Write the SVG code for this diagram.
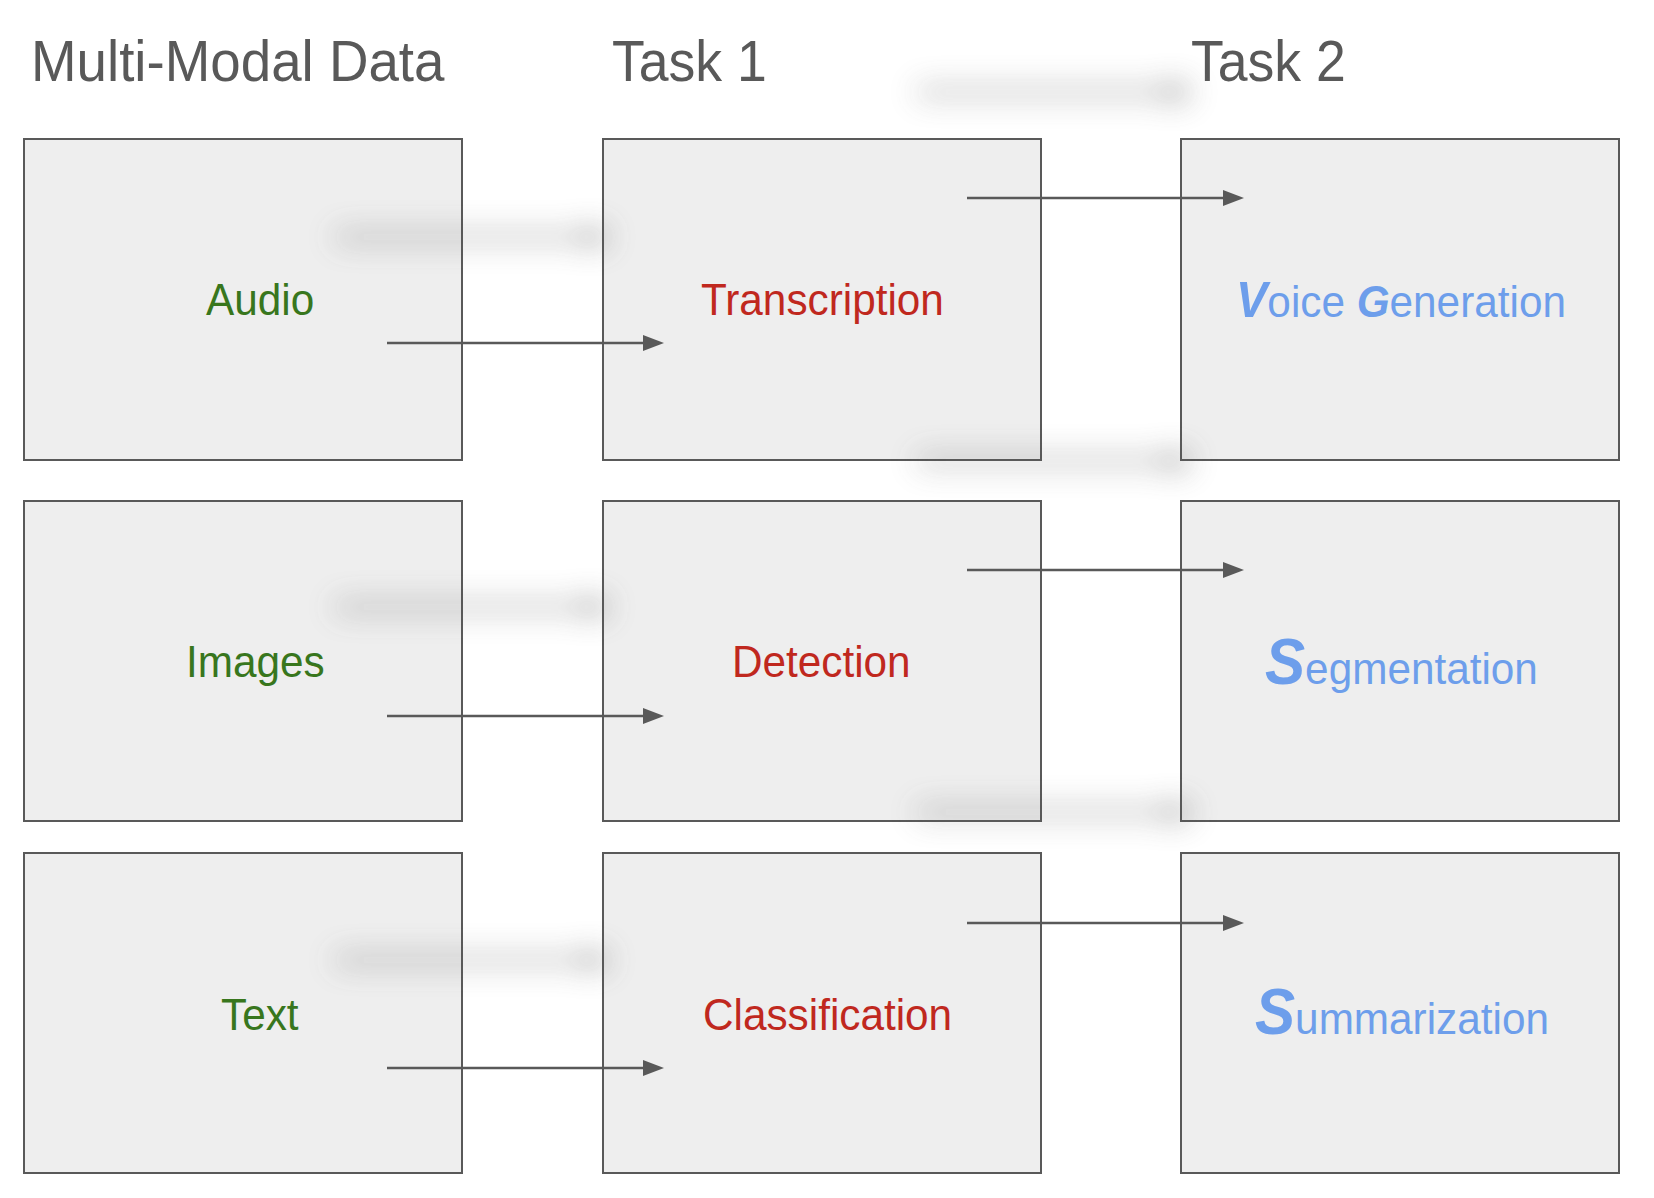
<svg xmlns="http://www.w3.org/2000/svg" width="1654" height="1198" viewBox="0 0 1654 1198">
  <style>
    .box { fill: #eeeeee; stroke: #595959; stroke-width: 2; }
    .t { font-family: "Liberation Sans", Arial, sans-serif; }
    .head { font-size: 57px; fill: #595959; }
    .lbl { font-size: 45px; }
    .green { fill: #38761d; }
    .red { fill: #c0281e; }
    .blue { fill: #6d9eeb; }
    .big { font-weight: bold; font-style: italic; }
    .conn { fill: none; stroke: #595959; stroke-width: 2.3; marker-end: url(#arrow); }
    .shadow { fill: none; stroke: #595959; stroke-width: 7; marker-end: url(#arrow-shadow); }
  </style>
  <defs>
    <marker id="arrow" markerUnits="userSpaceOnUse" markerWidth="22" markerHeight="16" refX="1" refY="8" orient="auto">
      <path d="M0,0 L21,8 L0,16 Z" fill="#595959"/>
    </marker>
    <marker id="arrow-shadow" markerUnits="userSpaceOnUse" markerWidth="26" markerHeight="24" refX="1" refY="12" orient="auto">
      <path d="M0,0 L25,12 L0,24 Z" fill="#595959"/>
    </marker>
    <filter id="blur" filterUnits="userSpaceOnUse" x="-200" y="-300" width="2100" height="1800">
      <feGaussianBlur stdDeviation="15"/>
    </filter>
  </defs>
  <rect width="1654" height="1198" fill="#ffffff"/>

  <g id="headers">
    <text class="t head" transform="translate(31,81) scale(0.96,1)">Multi-Modal Data</text>
    <text class="t head" transform="translate(612,81) scale(0.94,1)">Task 1</text>
    <text class="t head" transform="translate(1191,81) scale(0.94,1)">Task 2</text>
  </g>

  <g id="audio">
    <rect class="box" x="24" y="139" width="438" height="321"/>
    <text class="t lbl green" transform="translate(206,315) scale(0.94,1)">Audio</text>
  </g>
  <g id="transcription">
    <rect class="box" x="603" y="139" width="438" height="321"/>
    <text class="t lbl red" transform="translate(701,315) scale(0.94,1)">Transcription</text>
  </g>
  <g id="voice-generation">
    <rect class="box" x="1181" y="139" width="438" height="321"/>
    <text class="t lbl blue" transform="translate(1236,317) scale(0.94,1)"><tspan class="big" font-size="50">V</tspan>oice <tspan class="big">G</tspan>eneration</text>
  </g>

  <g id="images">
    <rect class="box" x="24" y="501" width="438" height="320"/>
    <text class="t lbl green" transform="translate(186,677) scale(0.94,1)">Images</text>
  </g>
  <g id="detection">
    <rect class="box" x="603" y="501" width="438" height="320"/>
    <text class="t lbl red" transform="translate(732,677) scale(0.94,1)">Detection</text>
  </g>
  <g id="segmentation">
    <rect class="box" x="1181" y="501" width="438" height="320"/>
    <text class="t lbl blue" transform="translate(1265,684) scale(0.94,1)"><tspan class="big" font-size="64">S</tspan>egmentation</text>
  </g>

  <g id="text">
    <rect class="box" x="24" y="853" width="438" height="320"/>
    <text class="t lbl green" transform="translate(221,1030) scale(0.94,1)">Text</text>
  </g>
  <g id="classification">
    <rect class="box" x="603" y="853" width="438" height="320"/>
    <text class="t lbl red" transform="translate(703,1030) scale(0.94,1)">Classification</text>
  </g>
  <g id="summarization">
    <rect class="box" x="1181" y="853" width="438" height="320"/>
    <text class="t lbl blue" transform="translate(1255,1034) scale(0.94,1)"><tspan class="big" font-size="64">S</tspan>ummarization</text>
  </g>

  <g id="connector-shadows" filter="url(#blur)" opacity="0.6">
    <path class="shadow" d="M335,237 H588"/>
    <path class="shadow" d="M335,607 H588"/>
    <path class="shadow" d="M335,960 H588"/>
    <path class="shadow" d="M917,92 H1170"/>
    <path class="shadow" d="M917,461 H1170"/>
    <path class="shadow" d="M917,812 H1170"/>
  </g>

  <g id="connectors">
    <path id="c-audio" class="conn" d="M387,343 H644"/>
    <path id="c-images" class="conn" d="M387,716 H644"/>
    <path id="c-text" class="conn" d="M387,1068 H644"/>
    <path id="c-transcription" class="conn" d="M967,198 H1224"/>
    <path id="c-detection" class="conn" d="M967,570 H1224"/>
    <path id="c-classification" class="conn" d="M967,923 H1224"/>
  </g>
</svg>
